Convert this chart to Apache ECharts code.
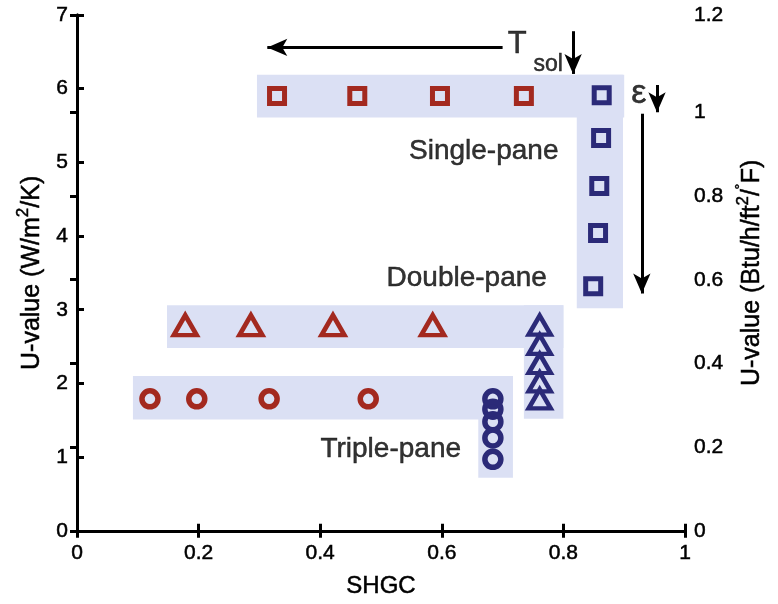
<!DOCTYPE html>
<html>
<head>
<meta charset="utf-8">
<script src="https://cdn.jsdelivr.net/npm/echarts@6/dist/echarts.min.js"></script>
<style>
  html, body { margin: 0; padding: 0; background: #fff; }
  #chart { width: 778px; height: 604px; }
</style>
</head>
<body>
<div id="chart"></div>
<script>
// Glazing options: [SHGC, U-value (W/m²/K)]
// red = varying solar transmittance, blue = varying emissivity
const singlePaneSolar = [[0.329, 5.90], [0.461, 5.90], [0.597, 5.90], [0.735, 5.90]];
const singlePaneEmis  = [[0.863, 5.91], [0.862, 5.33], [0.859, 4.68], [0.857, 4.04], [0.849, 3.32]];
const doublePaneSolar = [[0.178, 2.79], [0.286, 2.79], [0.421, 2.79], [0.585, 2.79]];
const doublePaneEmis  = [[0.761, 2.79], [0.761, 2.53], [0.761, 2.27], [0.761, 2.02], [0.761, 1.79]];
const triplePaneSolar = [[0.120, 1.79], [0.197, 1.79], [0.316, 1.79], [0.479, 1.79]];
const triplePaneEmis  = [[0.684, 1.79], [0.684, 1.65], [0.684, 1.48], [0.684, 1.26], [0.684, 0.97]];

// Shaded groups: [SHGC from, U from, SHGC to, U to]
const groupBands = [
  [0.296, 5.61, 0.900, 6.19], [0.822, 3.02, 0.898, 6.19],
  [0.148, 2.48, 0.800, 3.06], [0.735, 1.52, 0.800, 3.06],
  [0.092, 1.51, 0.717, 2.10], [0.660, 0.72, 0.717, 2.10]
];

// Annotation labels: [SHGC, U, text]
const groupLabels = [
  [0.669, 5.155, 'Single-pane'],
  [0.641, 3.43, 'Double-pane'],
  [0.516, 1.107, 'Triple-pane']
];
// Direction arrows: [[SHGC, U] start, [SHGC, U] head]
const trendArrows = [
  [[0.700, 6.56], [0.313, 6.56]],
  [[0.816, 6.78], [0.816, 6.20]],
  [[0.954, 6.05], [0.954, 5.68]],
  [[0.929, 5.66], [0.929, 3.22]]
];

const W_PER_BTU = 5.678;   // 1 Btu/h/ft²/°F = 5.678 W/m²/K
const U_MAX = 7;

const RED = '#a3291f';
const BLUE = '#2b2a78';
const BAND = '#dbe0f4';
const FONT = 'Liberation Sans, Arial, Helvetica, sans-serif';
const INK = { color: '#000', textBorderColor: '#000', textBorderWidth: 0.5, fontFamily: FONT };

const axisLine = { show: true, lineStyle: { color: '#000', width: 3 } };
const axisTick = { show: true, inside: true, length: 7, lineStyle: { color: '#000', width: 3 } };
const tickFont = Object.assign({ fontSize: 21 }, INK);
const titleRich = {
  a: Object.assign({ fontSize: 25, lineHeight: 30, verticalAlign: 'bottom' }, INK),
  s: Object.assign({ fontSize: 17, lineHeight: 30, verticalAlign: 'top' }, INK)
};

function markers(name, data, symbol, color, size, border) {
  return {
    name, type: 'scatter', data, symbol, symbolSize: size, z: 5,
    itemStyle: { color: 'rgba(0,0,0,0)', borderColor: color, borderWidth: border, opacity: 1 },
    silent: true
  };
}

const chart = echarts.init(document.getElementById('chart'), null, { renderer: 'canvas' });
chart.setOption({
  animation: false,
  backgroundColor: '#fff',
  grid: { left: 77, right: 93, top: 15, bottom: 70, containLabel: false },
  xAxis: [
    {
      type: 'value', min: 0, max: 1, interval: 0.2, position: 'bottom',
      name: 'SHGC', nameLocation: 'middle', nameGap: 44,
      nameTextStyle: Object.assign({ fontSize: 24 }, INK),
      axisLine, axisTick, splitLine: { show: false },
      axisLabel: Object.assign({ margin: 12 }, tickFont)
    },
    {
      type: 'value', min: 0, max: 1, interval: 0.2, position: 'top',
      axisLine, axisTick, splitLine: { show: false }, axisLabel: { show: false }
    }
  ],
  yAxis: [
    {
      type: 'value', min: 0, max: U_MAX, interval: 1, position: 'left',
      name: '{a|U-value (W/m}{s|2}{a|/K)}', nameLocation: 'middle', nameGap: 30, nameRotate: 90,
      nameTextStyle: { rich: titleRich },
      axisLine, axisTick, splitLine: { show: false },
      axisLabel: Object.assign({ margin: 9 }, tickFont)
    },
    {
      type: 'value', min: 0, max: U_MAX / W_PER_BTU, interval: 0.2, position: 'right',
      name: '{a|U-value (Btu/h/ft}{s|2}{a|/}{s|˚}{a|F)}', nameLocation: 'middle', nameGap: 43, nameRotate: 90,
      nameTextStyle: { rich: titleRich },
      axisLine, axisTick, splitLine: { show: false },
      axisLabel: Object.assign({ margin: 9, showMaxLabel: true,
        formatter: v => (Math.round(v * 10) / 10).toString() }, tickFont)
    }
  ],
  series: [
    {
      name: 'bands', type: 'scatter', data: [], z: 1, silent: true,
      markArea: {
        silent: true,
        itemStyle: { color: BAND, opacity: 1 },
        data: groupBands.map(b => [{ coord: [b[0], b[1]] }, { coord: [b[2], b[3]] }])
      }
    },
    markers('Single-pane (Tsol)', singlePaneSolar, 'rect', RED, 15, 5),
    markers('Single-pane (ε)', singlePaneEmis, 'rect', BLUE, 15, 5),
    markers('Double-pane (Tsol)', doublePaneSolar, 'triangle', RED, [23, 20], 4.5),
    markers('Double-pane (ε)', doublePaneEmis, 'triangle', BLUE, [22, 19], 4.5),
    markers('Triple-pane (Tsol)', triplePaneSolar, 'circle', RED, 16, 5.5),
    markers('Triple-pane (ε)', triplePaneEmis, 'circle', BLUE, 16, 5.5),
    {
      name: 'arrows', type: 'scatter', data: [], z: 6, silent: true,
      markLine: {
        silent: true, animation: false,
        symbol: ['none', 'arrow'], symbolSize: [13, 20],
        label: { show: false },
        lineStyle: { color: '#000', width: 3, type: 'solid' },
        emphasis: { disabled: true },
        data: trendArrows.map(a => [{ coord: a[0] }, { coord: a[1] }])
      }
    },
    {
      name: 'labels', type: 'scatter', z: 7, silent: true, symbolSize: 0,
      data: groupLabels,
      label: Object.assign({
        show: true, position: 'inside', formatter: p => p.value[2], fontSize: 28
      }, INK)
    },
    {
      name: 'symbols', type: 'scatter', z: 7, silent: true, symbolSize: 0,
      data: [
        { value: [0.724, 6.60], label: { formatter: 'T', fontSize: 31 } },
        { value: [0.775, 6.33], label: { formatter: 'sol', fontSize: 23 } },
        { value: [0.924, 5.93], label: { formatter: 'ε', fontSize: 34 } }
      ],
      label: Object.assign({ show: true, position: 'inside' }, INK)
    }
  ]
});
</script>
</body>
</html>
